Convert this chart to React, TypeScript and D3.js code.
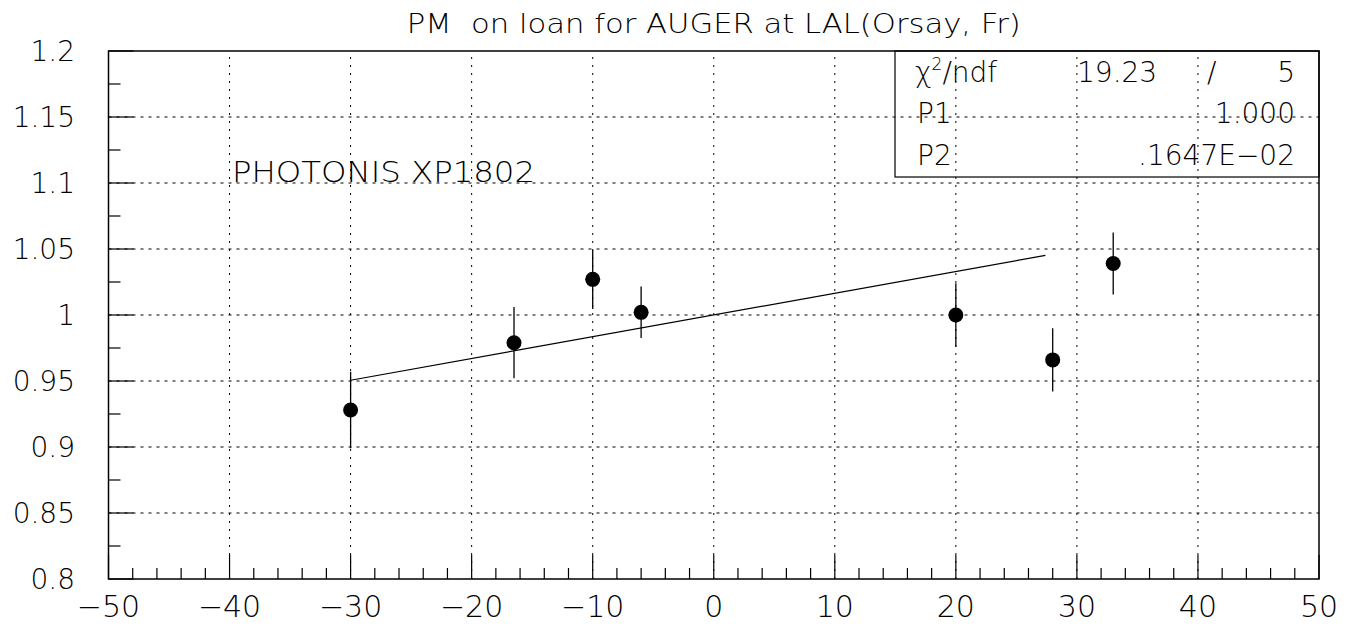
import React from "react";
import * as d3 from "d3";

// measured points (x, ratio, error)
const xVals = [-30, -16.5, -10, -6, 20, 28, 33];
const yVals = [0.928, 0.979, 1.027, 1.002, 1.0, 0.966, 1.039];
const yErrs = [0.029, 0.027, 0.0225, 0.0195, 0.024, 0.024, 0.0235];

// linear fit p1 + p2*x
const fitP1 = 1.0;
const fitP2 = 0.001647;
const fitRange = [-30, 27.4];

const xTicks = [-50, -40, -30, -20, -10, 0, 10, 20, 30, 40, 50];
const yTicks = [0.8, 0.85, 0.9, 0.95, 1, 1.05, 1.1, 1.15, 1.2];

const statsRows = [
  { label: "P1", value: "1.000" },
  { label: "P2", value: ".1647E\u221202" },
];

const W = 1358;
const H = 625;
const margin = { top: 51, right: 39, bottom: 46, left: 108.5 };
const font = "'DejaVu Sans', 'Liberation Sans', sans-serif";

const fmtX = (d: number) => (d < 0 ? "\u2212" + Math.abs(d) : String(d));
const fmtY = (d: number) => (d === 1 ? "1" : String(d));

export default function App() {
  const x = d3.scaleLinear().domain([-50, 50]).range([margin.left, W - margin.right]);
  const y = d3.scaleLinear().domain([0.8, 1.2]).range([H - margin.bottom, margin.top]);
  const [x0, x1] = x.range();
  const [y0, y1] = y.range();

  const xMinor = d3.range(-50, 50.001, 2);
  const yMinor = d3.range(0.8, 1.2001, 0.025);

  const fitLine = d3
    .line<number>()
    .x((d) => x(d))
    .y((d) => y(fitP1 + fitP2 * d));

  return (
    <svg
      width={W}
      height={H}
      style={{ position: "absolute", left: 0, top: 0, background: "#fff" }}
      fontFamily={font}
      fontWeight={200}
    >
      {/* title */}
      <text
        x={(x0 + x1) / 2}
        y={33}
        fontSize={27}
        textAnchor="middle"
        textLength={614}
        lengthAdjust="spacingAndGlyphs"
        style={{ whiteSpace: "pre" }}
      >
        {"PM  on loan for AUGER at LAL(Orsay, Fr)"}
      </text>

      {/* grid */}
      {yTicks.slice(1, -1).map((t) => (
        <line key={"gy" + t} x1={x0} x2={x1} y1={y(t)} y2={y(t)} stroke="#000" strokeDasharray="3,5" />
      ))}
      {xTicks.slice(1, -1).map((t) => (
        <line key={"gx" + t} x1={x(t)} x2={x(t)} y1={y0} y2={y1} stroke="#000" strokeDasharray="2,6" />
      ))}

      {/* frame */}
      <rect x={x0} y={y1} width={x1 - x0} height={y0 - y1} fill="none" stroke="#000" strokeWidth={1.5} />

      {/* x ticks */}
      {xMinor.map((t) => {
        const major = Math.abs(t % 10) < 1e-6;
        return (
          <line key={"xt" + t} x1={x(t)} x2={x(t)} y1={y0} y2={y0 - (major ? 24 : 11)} stroke="#000" strokeWidth={1.2} />
        );
      })}
      {xTicks.map((t) => (
        <text key={"xl" + t} x={x(t)} y={617} fontSize={30} textAnchor="middle">
          {fmtX(t)}
        </text>
      ))}

      {/* y ticks */}
      {yMinor.map((t, i) => (
        <line key={"yt" + i} x1={x0} x2={x0 + (i % 2 === 0 ? 25 : 12)} y1={y(t)} y2={y(t)} stroke="#000" strokeWidth={1.2} />
      ))}
      {yTicks.map((t) => (
        <text key={"yl" + t} x={75} y={y(t) + 10} fontSize={28} textAnchor="end">
          {fmtY(t)}
        </text>
      ))}

      {/* fit */}
      <path d={fitLine(fitRange) || ""} fill="none" stroke="#000" strokeWidth={1.2} />

      {/* points */}
      {xVals.map((xv, i) => (
        <g key={"p" + i}>
          <line x1={x(xv)} x2={x(xv)} y1={y(yVals[i] - yErrs[i])} y2={y(yVals[i] + yErrs[i])} stroke="#000" strokeWidth={1.3} />
          <circle cx={x(xv)} cy={y(yVals[i])} r={7.5} fill="#000" />
        </g>
      ))}

      {/* label */}
      <text x={232} y={182} fontSize={29} textLength={303} lengthAdjust="spacingAndGlyphs">
        PHOTONIS XP1802
      </text>

      {/* stats box */}
      <rect x={895} y={y1} width={x1 - 895} height={126} fill="none" stroke="#000" strokeWidth={1.2} />
      <text x={915} y={82} fontSize={28}>
        {"\u03c7"}
        <tspan dy={-12} fontSize={17}>2</tspan>
        <tspan dy={12}>/ndf</tspan>
      </text>
      <text x={1077} y={82} fontSize={28}>19.23</text>
      <text x={1207} y={82} fontSize={28}>/</text>
      <text x={1295} y={82} fontSize={28} textAnchor="end">5</text>
      {statsRows.map((r, i) => (
        <g key={r.label}>
          <text x={917} y={123 + i * 42} fontSize={28}>{r.label}</text>
          <text x={1295} y={123 + i * 42} fontSize={28} textAnchor="end">{r.value}</text>
        </g>
      ))}
    </svg>
  );
}
